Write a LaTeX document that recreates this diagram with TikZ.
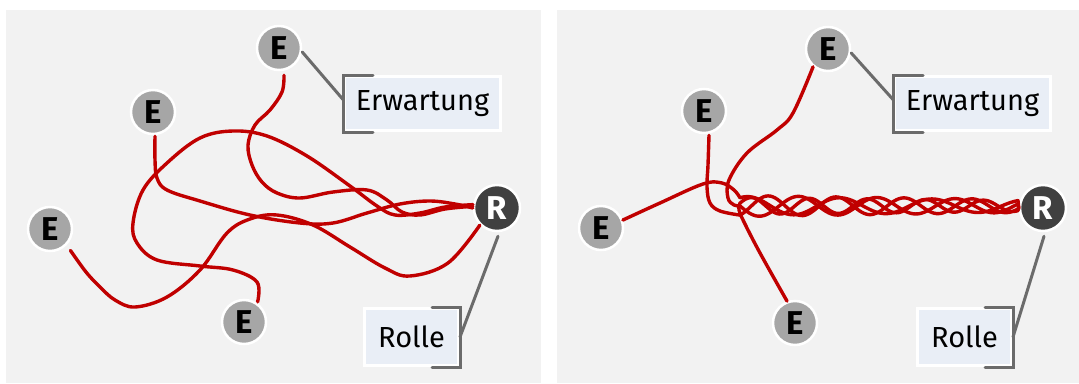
\documentclass[tikz,border=0pt]{standalone}
\usepackage{fontspec}
\setmainfont{Fira Sans}
\usetikzlibrary{calc}
\definecolor{panel}{HTML}{F2F2F2}
\definecolor{boxfill}{HTML}{E9EEF6}
\definecolor{tiered}{HTML}{C00000}
\definecolor{egray}{HTML}{A6A6A6}
\definecolor{rdark}{HTML}{404040}
\definecolor{lgray}{HTML}{6B6B6B}
\begin{document}
\begin{tikzpicture}[x=1pt,y=-1pt,
  ent/.style={circle,fill=egray,draw=white,line width=2.5pt,minimum size=44pt,inner sep=0pt,
    font=\fontsize{33}{33}\selectfont\bfseries},
  rol/.style={circle,fill=rdark,draw=white,line width=2.5pt,minimum size=46pt,inner sep=0pt,
    text=white,font=\fontsize{33}{33}\selectfont\bfseries},
  lbl/.style={fill=boxfill,draw=white,line width=3pt,inner sep=0pt,
    font=\fontsize{29}{29}\selectfont},
  brk/.style={draw=lgray,line width=3pt,line cap=round,line join=miter},
  tie/.style={draw=tiered,line width=3.4pt,line cap=round,line join=round},
  wiggle/.style={smooth,tension=0.6}]
\useasboundingbox (0,0) rectangle (1079,383);
\fill[panel] (6,10) rectangle (541,383);
\fill[panel] (557,10) rectangle (1079,383);

% ---------------- left panel ----------------
\node[ent] (et) at (279,48) {E};
\node[ent] (e2) at (153,112) {E};
\node[ent] (e3) at (50,229) {E};
\node[ent] (e4) at (244,322) {E};
\node[rol] (rl) at (497,208) {R};
\node[lbl,minimum width=156pt,minimum height=54pt] (erw) at (422.5,103.5) {Erwartung};
\node[lbl,minimum width=94pt,minimum height=57pt] (rolle) at (411.5,337) {Rolle};

\coordinate (ct) at ([shift={(5,4)}]et.south);
\coordinate (c2) at ([shift={(2,1)}]e2.south);
\coordinate (c3) at ([shift={(4,5)}]e3.south east);
\coordinate (c4) at ([shift={(2,0)}]e4.60);

\draw[tie] plot[wiggle] coordinates {(ct) (282,92) (270,110) (255,125) (248,145) (252,165) (262,182) (277,193) (300,198) (333,192) (367,190) (387,200) (402,212) (420,215) (445,209) (rl.176)};
\draw[tie] plot[wiggle] coordinates {(c2) (155,160) (157,178) (167,190) (200,201) (250,215) (300,223) (333,223) (367,213) (400,204) (430,201) (455,204) (rl.180)};
\draw[tie] plot[wiggle] coordinates {(c4) (257,282) (233,270) (200,266) (157,260) (137,243) (133,223) (143,190) (167,163) (200,138) (233,131) (267,136) (307,156) (350,186) (377,206) (395,215) (420,213) (445,207) (rl.172)};
\draw[tie] plot[wiggle] coordinates {(c3) (86,272) (100,287) (115,300) (135,307) (167,297) (200,270) (227,233) (250,219) (277,215) (313,225) (350,247) (385,268) (410,276) (448,263) (rl.-135)};

\draw[brk] ([shift={(30,0)}]erw.north west) -- (erw.north west) -- (erw.south west) -- ([shift={(30,0)}]erw.south west);
\draw[brk] ([shift={(-28,0)}]rolle.north east) -- (rolle.north east) -- (rolle.south east) -- ([shift={(-28,0)}]rolle.south east);
\draw[brk] ([shift={(0,4)}]et.east) -- ([shift={(0,-4)}]erw.west);
\draw[brk] ([shift={(1,4)}]rl.south) -- (rolle.east);

% ---------------- right panel ----------------
\node[ent] (ret) at (828,49) {E};
\node[ent] (re2) at (704,111) {E};
\node[ent] (re3) at (601,228) {E};
\node[ent] (re4) at (795,323) {E};
\node[rol] (rr) at (1043,208) {R};
\node[lbl,minimum width=156pt,minimum height=54pt] (rerw) at (972.5,103.5) {Erwartung};
\node[lbl,minimum width=94pt,minimum height=57pt] (rrolle) at (964.5,337) {Rolle};

\coordinate (dt) at (ret.-130);
\coordinate (d2) at ([shift={(5,1)}]re2.south);
\coordinate (d3) at (re3.20);
\coordinate (d4) at (re4.110);

\draw[tie] plot[wiggle] coordinates {(dt) (793,113) (777,130) (747,153) (729,180) (728,198) (734,205) (740,206)}
  -- plot[smooth,domain=740:1018,samples=120] (\x,{206+(10.5-4*(\x-740)/278)*sin(4.6*(\x-740))}) -- (rr.west);
\draw[tie] plot[wiggle] coordinates {(d2) (708,165) (707,187) (710,203) (720,211) (740,215.1)}
  -- plot[smooth,domain=740:1018,samples=120] (\x,{206+(10.5-4*(\x-740)/278)*sin(5.3*(\x-740)+120)}) -- (rr.west);
\draw[tie] plot[wiggle] coordinates {(d3) (660,203) (703,184) (722,183) (734,190) (740,197.8)}
  -- plot[smooth,domain=740:1018,samples=120] (\x,{206-(9.5-3.5*(\x-740)/278)*sin(3.9*(\x-740)+60)}) -- (rr.west);
\draw[tie] plot[wiggle] coordinates {(d4) (760,253) (744,222) (739,210) (740,203.1)}
  -- plot[smooth,domain=740:1018,samples=120] (\x,{206+(8.5-3*(\x-740)/278)*sin(6.2*(\x-740)+200)}) -- (rr.west);

\draw[brk] ([shift={(30,0)}]rerw.north west) -- (rerw.north west) -- (rerw.south west) -- ([shift={(30,0)}]rerw.south west);
\draw[brk] ([shift={(-28,0)}]rrolle.north east) -- (rrolle.north east) -- (rrolle.south east) -- ([shift={(-28,0)}]rrolle.south east);
\draw[brk] ([shift={(0,4)}]ret.east) -- ([shift={(0,-4)}]rerw.west);
\draw[brk] ([shift={(1,4)}]rr.south) -- (rrolle.east);
\end{tikzpicture}
\end{document}
